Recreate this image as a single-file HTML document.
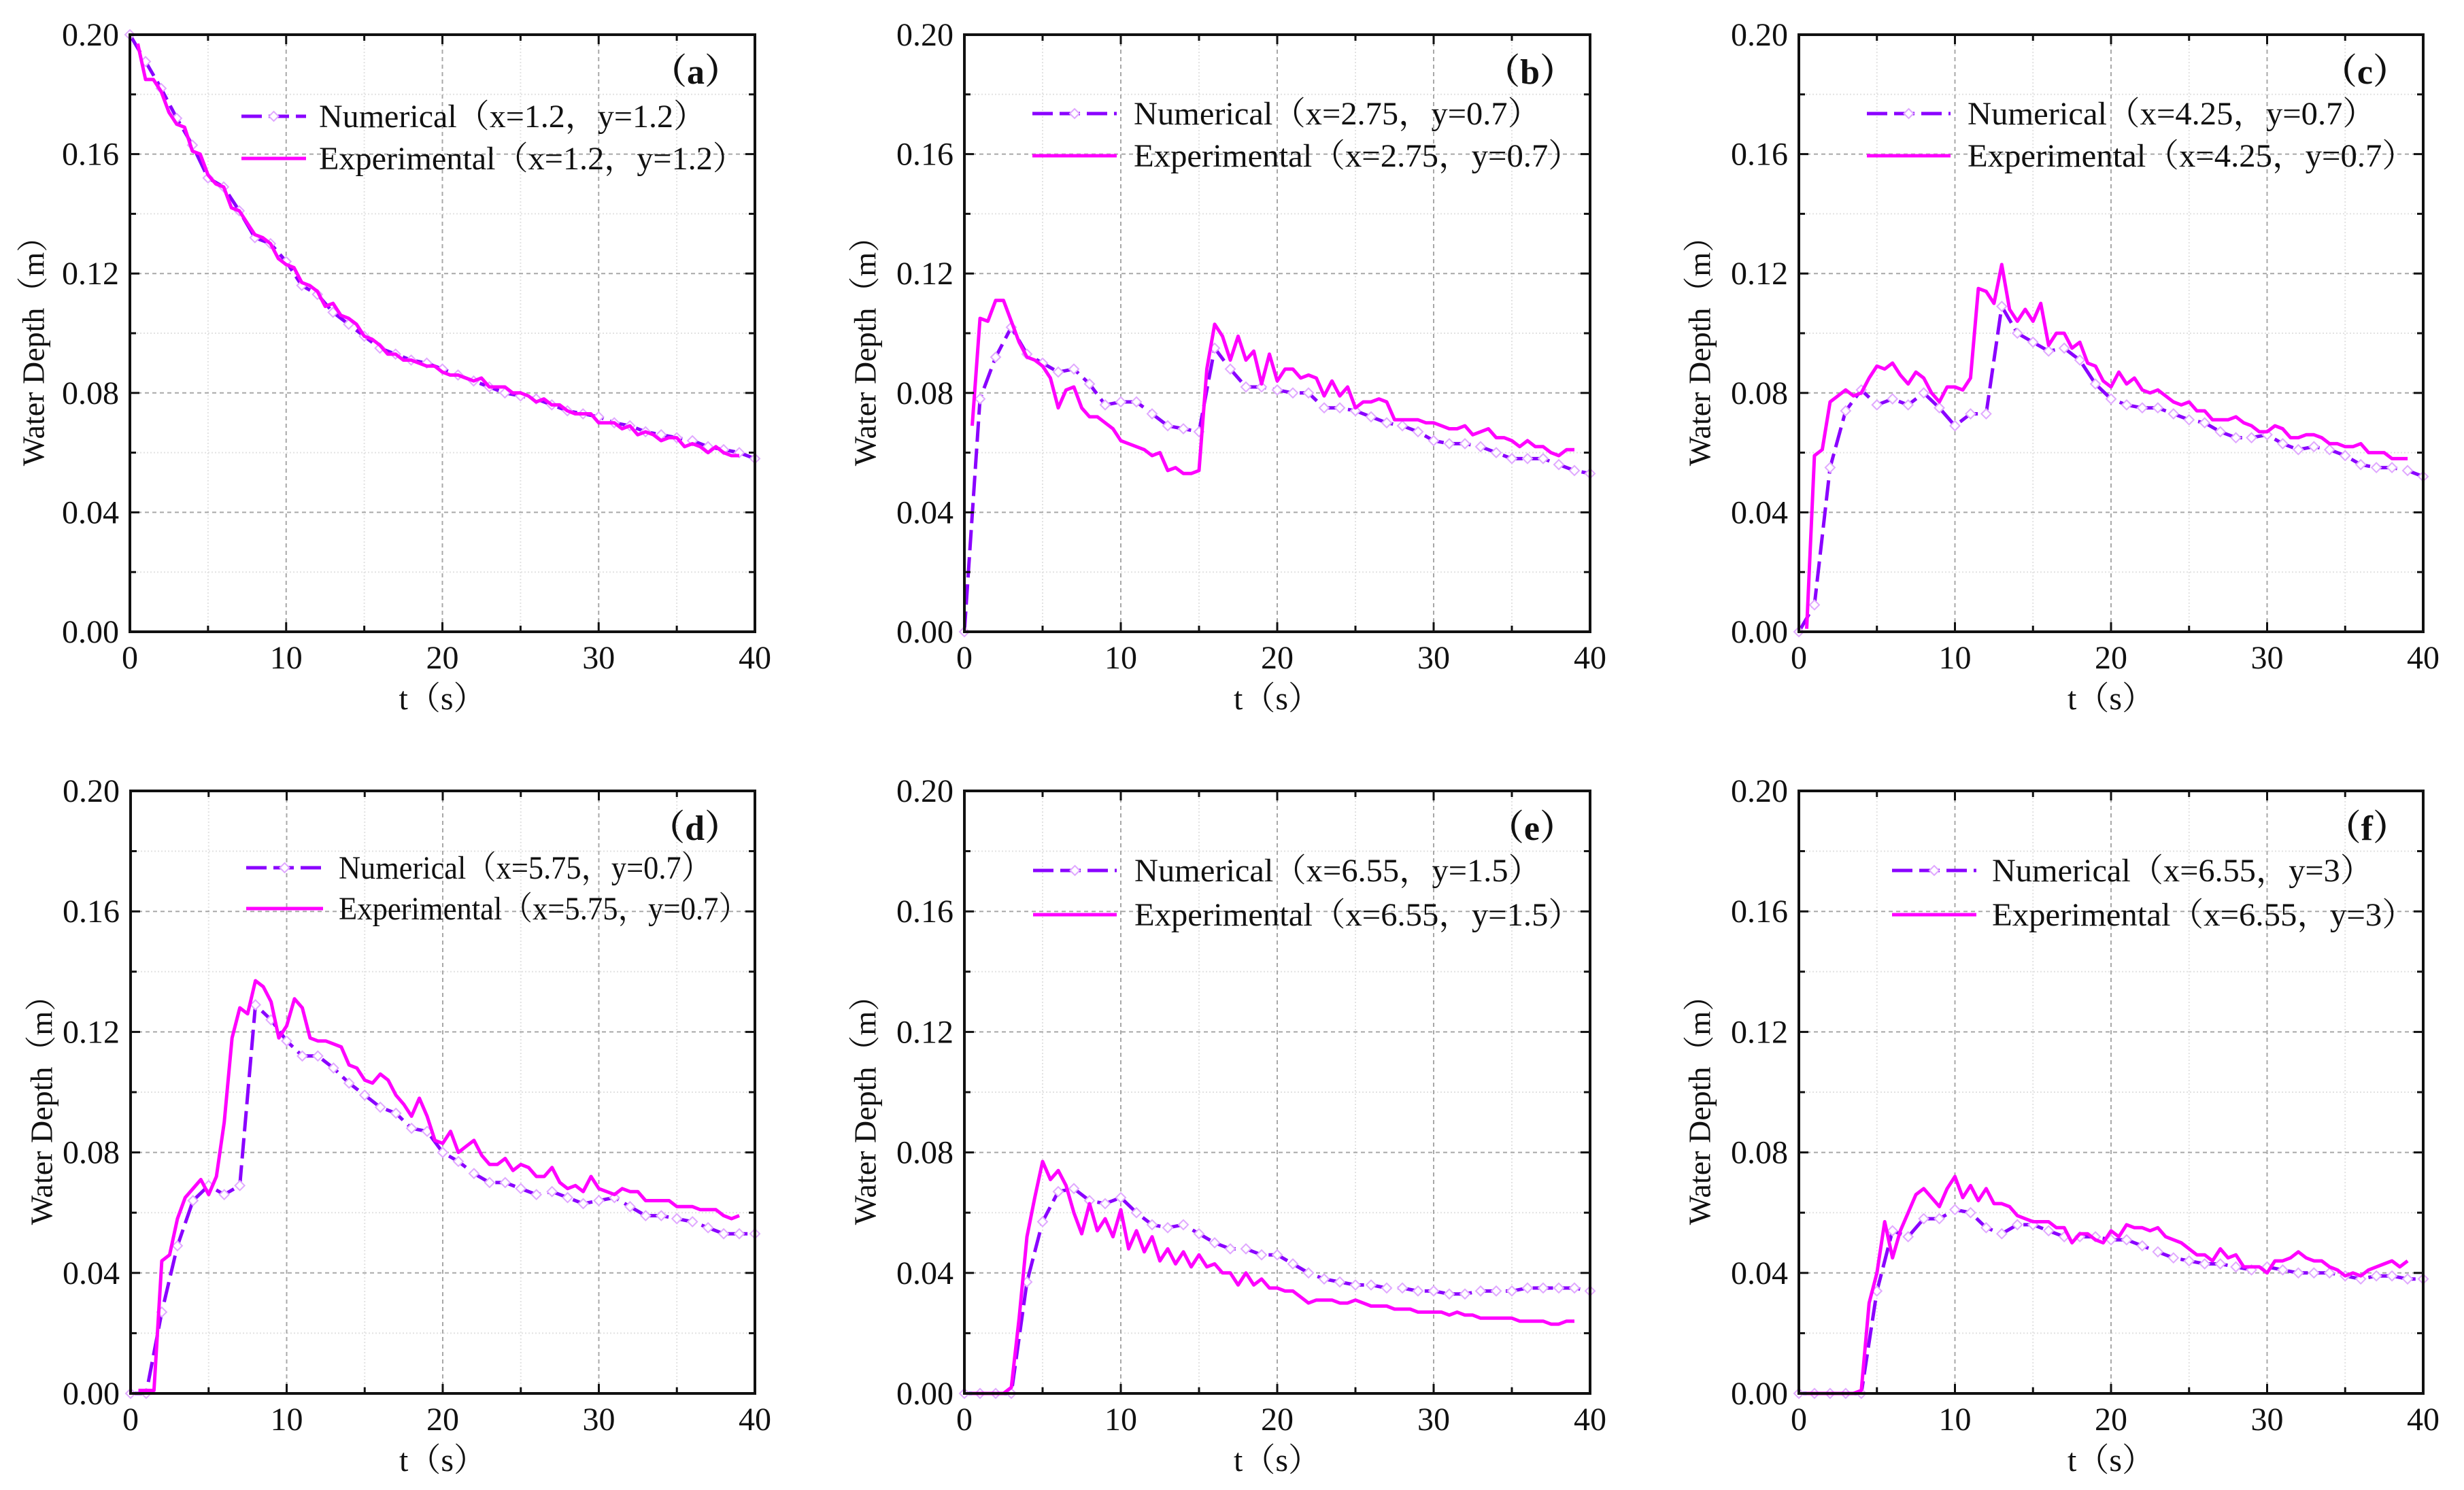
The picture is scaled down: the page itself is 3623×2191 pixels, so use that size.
<!DOCTYPE html>
<html><head><meta charset="utf-8">
<style>
html,body{margin:0;padding:0;background:#fff;}
svg{display:block;}
text{font-family:"Liberation Serif","Noto Serif CJK SC",serif;fill:#111;}
</style></head>
<body>
<svg id="fig" width="3623" height="2191" viewBox="0 0 3623 2191" xmlns="http://www.w3.org/2000/svg"></svg>
<script>
// ---------- data ----------
const xTicks = [0, 10, 20, 30, 40];
const yTicks = [0.00, 0.04, 0.08, 0.12, 0.16, 0.20];
const yTickLabels = ["0.00", "0.04", "0.08", "0.12", "0.16", "0.20"];
const numT = [0,1,2,3,4,5,6,7,8,9,10,11,12,13,14,15,16,17,18,19,20,21,22,23,24,25,26,27,28,29,30,31,32,33,34,35,36,37,38,39,40];
const expT = [0.5,1,1.5,2,2.5,3,3.5,4,4.5,5,5.5,6,6.5,7,7.5,8,8.5,9,9.5,10,10.5,11,11.5,12,12.5,13,13.5,14,14.5,15,15.5,16,16.5,17,17.5,18,18.5,19,19.5,20,20.5,21,21.5,22,22.5,23,23.5,24,24.5,25,25.5,26,26.5,27,27.5,28,28.5,29,29.5,30,30.5,31,31.5,32,32.5,33,33.5,34,34.5,35,35.5,36,36.5,37,37.5,38,38.5,39];
const panelLabels = ["（a）","（b）","（c）","（d）","（e）","（f）"];
const numLegend = ["Numerical（x=1.2，y=1.2）","Numerical（x=2.75，y=0.7）","Numerical（x=4.25，y=0.7）","Numerical（x=5.75，y=0.7）","Numerical（x=6.55，y=1.5）","Numerical（x=6.55，y=3）"];
const expLegend = ["Experimental（x=1.2，y=1.2）","Experimental（x=2.75，y=0.7）","Experimental（x=4.25，y=0.7）","Experimental（x=5.75，y=0.7）","Experimental（x=6.55，y=1.5）","Experimental（x=6.55，y=3）"];

const numA = [0.200,0.191,0.182,0.172,0.163,0.152,0.149,0.141,0.132,0.130,0.124,0.116,0.113,0.107,0.103,0.099,0.095,0.093,0.091,0.090,0.088,0.086,0.084,0.082,0.080,0.079,0.078,0.076,0.074,0.073,0.072,0.070,0.069,0.067,0.066,0.065,0.064,0.062,0.061,0.060,0.058];
const expA = [0.197,0.185,0.185,0.181,0.174,0.170,0.169,0.161,0.160,0.153,0.150,0.149,0.142,0.141,0.137,0.133,0.132,0.130,0.125,0.123,0.122,0.117,0.116,0.114,0.109,0.110,0.106,0.105,0.103,0.099,0.098,0.096,0.093,0.093,0.091,0.091,0.090,0.089,0.089,0.087,0.086,0.086,0.085,0.084,0.085,0.082,0.082,0.082,0.080,0.080,0.079,0.077,0.078,0.076,0.076,0.074,0.073,0.073,0.073,0.070,0.070,0.070,0.068,0.069,0.066,0.067,0.066,0.064,0.065,0.065,0.062,0.063,0.062,0.060,0.062,0.060,0.059,0.059];

const numB = [0,0.078,0.092,0.102,0.093,0.090,0.087,0.088,0.083,0.076,0.077,0.077,0.073,0.069,0.068,0.067,0.095,0.088,0.082,0.082,0.081,0.080,0.080,0.075,0.075,0.074,0.072,0.070,0.069,0.067,0.064,0.063,0.063,0.062,0.060,0.058,0.058,0.058,0.056,0.054,0.053];
const expB = [0.069,0.105,0.104,0.111,0.111,0.104,0.097,0.092,0.091,0.089,0.085,0.075,0.081,0.082,0.075,0.072,0.072,0.070,0.068,0.064,0.063,0.062,0.061,0.059,0.060,0.054,0.055,0.053,0.053,0.054,0.088,0.103,0.099,0.091,0.099,0.091,0.094,0.083,0.093,0.084,0.088,0.088,0.085,0.086,0.085,0.079,0.084,0.079,0.082,0.075,0.077,0.077,0.078,0.077,0.071,0.071,0.071,0.071,0.070,0.070,0.069,0.068,0.068,0.069,0.066,0.067,0.068,0.065,0.065,0.064,0.062,0.064,0.062,0.062,0.060,0.059,0.061,0.061];

const numC = [0,0.009,0.055,0.074,0.081,0.076,0.078,0.076,0.080,0.075,0.069,0.073,0.073,0.109,0.100,0.097,0.094,0.095,0.091,0.083,0.078,0.076,0.075,0.075,0.073,0.071,0.070,0.067,0.065,0.065,0.066,0.063,0.061,0.062,0.061,0.059,0.056,0.055,0.055,0.054,0.052];
const expC = [0.001,0.059,0.061,0.077,0.079,0.081,0.079,0.080,0.085,0.089,0.088,0.090,0.086,0.083,0.087,0.085,0.080,0.077,0.082,0.082,0.081,0.085,0.115,0.114,0.110,0.123,0.108,0.104,0.108,0.104,0.110,0.096,0.100,0.100,0.095,0.097,0.090,0.089,0.084,0.082,0.087,0.083,0.085,0.081,0.080,0.081,0.079,0.077,0.076,0.077,0.074,0.074,0.071,0.071,0.071,0.072,0.070,0.069,0.067,0.067,0.069,0.068,0.065,0.065,0.066,0.066,0.065,0.063,0.063,0.062,0.062,0.063,0.060,0.060,0.060,0.058,0.058,0.058];

const numD = [0,0,0.027,0.049,0.064,0.069,0.066,0.069,0.129,0.124,0.117,0.112,0.112,0.108,0.103,0.099,0.095,0.093,0.088,0.087,0.080,0.077,0.073,0.070,0.070,0.068,0.066,0.067,0.065,0.063,0.064,0.065,0.062,0.059,0.059,0.058,0.057,0.055,0.053,0.053,0.053];
const expD = [0.001,0.001,0.001,0.044,0.046,0.058,0.065,0.068,0.071,0.066,0.072,0.090,0.118,0.128,0.126,0.137,0.135,0.130,0.118,0.122,0.131,0.128,0.118,0.117,0.117,0.116,0.115,0.109,0.108,0.104,0.103,0.106,0.104,0.099,0.096,0.092,0.098,0.092,0.084,0.083,0.087,0.080,0.082,0.084,0.079,0.076,0.076,0.078,0.074,0.076,0.075,0.072,0.072,0.075,0.070,0.068,0.069,0.067,0.072,0.068,0.067,0.066,0.068,0.067,0.067,0.064,0.064,0.064,0.064,0.062,0.062,0.062,0.061,0.061,0.061,0.059,0.058,0.059];

const numE = [0,0,0,0,0.037,0.057,0.067,0.068,0.064,0.063,0.065,0.060,0.056,0.055,0.056,0.053,0.050,0.048,0.048,0.046,0.046,0.043,0.040,0.038,0.037,0.036,0.036,0.035,0.035,0.034,0.034,0.033,0.033,0.034,0.034,0.034,0.035,0.035,0.035,0.035,0.034];
const expE = [0,0,0,0,0,0.002,0.025,0.052,0.065,0.077,0.071,0.074,0.069,0.060,0.053,0.063,0.054,0.058,0.052,0.061,0.048,0.054,0.047,0.052,0.044,0.048,0.043,0.047,0.042,0.046,0.042,0.043,0.040,0.040,0.036,0.040,0.036,0.038,0.035,0.035,0.034,0.034,0.032,0.030,0.031,0.031,0.031,0.030,0.030,0.031,0.030,0.029,0.029,0.029,0.028,0.028,0.028,0.027,0.027,0.027,0.027,0.026,0.027,0.026,0.026,0.025,0.025,0.025,0.025,0.025,0.024,0.024,0.024,0.024,0.023,0.023,0.024,0.024];

const numF = [0,0,0,0,0,0.034,0.054,0.052,0.058,0.058,0.061,0.060,0.055,0.053,0.056,0.056,0.054,0.052,0.052,0.052,0.051,0.051,0.049,0.047,0.045,0.044,0.043,0.043,0.042,0.041,0.042,0.041,0.040,0.040,0.040,0.039,0.038,0.039,0.039,0.038,0.038];
const expF = [0,0,0,0,0,0,0,0.001,0.030,0.040,0.057,0.045,0.054,0.060,0.066,0.068,0.065,0.062,0.068,0.072,0.065,0.069,0.064,0.068,0.063,0.063,0.062,0.059,0.058,0.057,0.057,0.057,0.055,0.055,0.050,0.053,0.053,0.051,0.050,0.054,0.052,0.056,0.055,0.055,0.054,0.055,0.052,0.051,0.050,0.048,0.046,0.046,0.044,0.048,0.045,0.046,0.042,0.042,0.042,0.040,0.044,0.044,0.045,0.047,0.045,0.044,0.044,0.042,0.041,0.039,0.040,0.039,0.041,0.042,0.043,0.044,0.042,0.044];

// ---------- layout ----------
const NS = "http://www.w3.org/2000/svg";
const svg = document.getElementById('fig');
function mk(tag, attrs, parent){ const e=document.createElementNS(NS,tag); for(const k in attrs) e.setAttribute(k,attrs[k]); (parent||svg).appendChild(e); return e; }

const panels = [
 {L:191,R:1110,T:51,B:929,num:numA,exp:expA,lg:[164,259,278,120,182],nw:569,ew:627,yt:-137},
 {L:1418,R:2338,T:51,B:929,num:numB,exp:expB,lg:[100,224,249,116,178],nw:598,ew:658,yt:-141},
 {L:2645,R:3563,T:51,B:929,num:numC,exp:expC,lg:[100,223,248,116,178],nw:600,ew:658,yt:-141},
 {L:192,R:1110,T:1163,B:2049,num:numD,exp:expD,lg:[170,283,306,113,173],nw:548,ew:603,yt:-126},
 {L:1418,R:2338,T:1163,B:2049,num:numE,exp:expE,lg:[101,224,250,117,182],nw:598,ew:657,yt:-141},
 {L:2645,R:3563,T:1163,B:2049,num:numF,exp:expF,lg:[137,261,284,117,182],nw:560,ew:622,yt:-141}
];
const letters = ['a','b','c','d','e','f'];

panels.forEach((p,i)=>{
  const g = mk('g',{});
  
  
  const xs = t => p.L + (t/40)*(p.R-p.L);
  const ys = v => p.B - (v/0.20)*(p.B-p.T);

  for(let t=5;t<40;t+=10){ mk('line',{x1:xs(t),x2:xs(t),y1:p.T,y2:p.B,stroke:'#e2e2e2','stroke-width':2,'stroke-dasharray':'2 3'},g); }
  for(let v=0.02;v<0.2;v+=0.04){ mk('line',{x1:p.L,x2:p.R,y1:ys(v),y2:ys(v),stroke:'#e2e2e2','stroke-width':2,'stroke-dasharray':'2 3'},g); }
  xTicks.slice(1,-1).forEach(t=>{ const l=mk('line',{x1:xs(t),x2:xs(t),y1:p.T,y2:p.B,stroke:'#a8a8a8','stroke-width':2,'stroke-dasharray':'6 5'},g);
      });
  yTicks.slice(1,-1).forEach(v=>{ const l=mk('line',{x1:p.L,x2:p.R,y1:ys(v),y2:ys(v),stroke:'#a8a8a8','stroke-width':2,'stroke-dasharray':'6 5'},g);
      });

  const nd = p.num.map((v,k)=>(k?'L':'M')+xs(numT[k]).toFixed(1)+' '+ys(v).toFixed(1)).join(' ');
  const nl = mk('path',{d:nd,fill:'none',stroke:'#8a00ff','stroke-width':5,'stroke-dasharray':'30 10','stroke-linejoin':'round'},g);
  
  
  p.num.forEach((v,k)=>{ const x=xs(numT[k]), y=ys(v);
    const m=mk('path',{d:`M${x} ${y-7} L${x+7} ${y} L${x} ${y+7} L${x-7} ${y} Z`,fill:'#fff',stroke:'#e0a8ff','stroke-width':2},g);
    
     });
  const ed = p.exp.map((v,k)=>(k?'L':'M')+xs(expT[k]).toFixed(1)+' '+ys(v).toFixed(1)).join(' ');
  const el = mk('path',{d:ed,fill:'none',stroke:'#ff00ff','stroke-width':5,'stroke-linejoin':'round'},g);
  
  

  const fr = mk('rect',{x:p.L,y:p.T,width:p.R-p.L,height:p.B-p.T,fill:'none',stroke:'#111','stroke-width':4},g);
  
  
  for(let t=0;t<=40;t+=5){ const len = t%10===0?14:9;
    mk('line',{x1:xs(t),x2:xs(t),y1:p.B,y2:p.B-len,stroke:'#111','stroke-width':3},g);
    mk('line',{x1:xs(t),x2:xs(t),y1:p.T,y2:p.T+len,stroke:'#111','stroke-width':3},g); }
  for(let k=0;k<=10;k++){ const v=k*0.02, len=k%2===0?14:9;
    mk('line',{x1:p.L,x2:p.L+len,y1:ys(v),y2:ys(v),stroke:'#111','stroke-width':3},g);
    mk('line',{x1:p.R,x2:p.R-len,y1:ys(v),y2:ys(v),stroke:'#111','stroke-width':3},g); }

  xTicks.forEach(t=>{ const tx=mk('text',{x:xs(t),y:p.B+54,'font-size':48,'text-anchor':'middle'},g); tx.textContent=t;
      });
  yTicks.forEach((v,k)=>{ const tx=mk('text',{x:p.L-16,y:ys(v)+16,'font-size':48,'text-anchor':'end'},g); tx.textContent=yTickLabels[k];
      });

  const xt = mk('text',{x:(p.L+p.R)/2,y:p.B+114,'font-size':48,'text-anchor':'middle'},g); xt.textContent='t（s）';
  
  
  const cy=(p.T+p.B)/2+15, cx=p.L+p.yt;
  const yt = mk('text',{x:cx,y:cy,'font-size':46,'text-anchor':'middle',transform:`rotate(-90 ${cx} ${cy})`,'dominant-baseline':'middle'},g); yt.textContent='Water Depth（m）';
  
  

  const pl = mk('text',{x:p.R-22,y:p.T+72,'font-size':52,'font-weight':'bold','text-anchor':'end'},g); pl.textContent=panelLabels[i];
  
  

  const lg = p.lg;
  const lgG = mk('g',{},g);
  
  
  const y1=p.T+lg[3], y2=p.T+lg[4];
  mk('line',{x1:p.L+lg[0],x2:p.L+lg[1],y1:y1,y2:y1,stroke:'#8a00ff','stroke-width':5,'stroke-dasharray':'30 10'},lgG);
  const mx=(p.L+lg[0]+p.L+lg[1])/2;
  mk('path',{d:`M${mx} ${y1-7} L${mx+7} ${y1} L${mx} ${y1+7} L${mx-7} ${y1} Z`,fill:'#fff',stroke:'#e0a8ff','stroke-width':2},lgG);
  const t1 = mk('text',{x:p.L+lg[2],y:y1+16,'font-size':48,textLength:p.nw,lengthAdjust:'spacingAndGlyphs'},lgG); t1.textContent=numLegend[i];
  
  
  mk('line',{x1:p.L+lg[0],x2:p.L+lg[1],y1:y2,y2:y2,stroke:'#ff00ff','stroke-width':5},lgG);
  const t2 = mk('text',{x:p.L+lg[2],y:y2+16,'font-size':48,textLength:p.ew,lengthAdjust:'spacingAndGlyphs'},lgG); t2.textContent=expLegend[i];
  
  
});
</script>
</body></html>
